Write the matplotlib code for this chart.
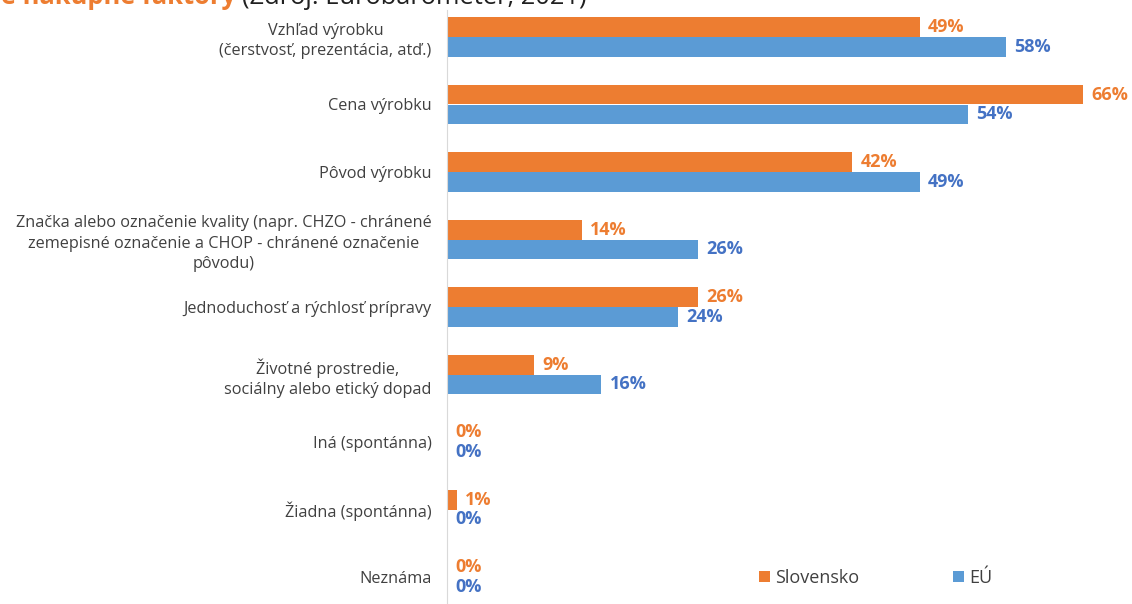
import numpy as np
import matplotlib.pyplot as plt

plt.rcParams['font.family'] = ['Open Sans', 'DejaVu Sans']

kategorie = [
    "Vzhľad výrobku\n(čerstvosť, prezentácia, atď.)",
    "Cena výrobku",
    "Pôvod výrobku",
    "Značka alebo označenie kvality (napr. CHZO - chránené\nzemepisné označenie a CHOP - chránené označenie\npôvodu)",
    "Jednoduchosť a rýchlosť prípravy",
    "Životné prostredie,\nsociálny alebo etický dopad",
    "Iná (spontánna)",
    "Žiadna (spontánna)",
    "Neznáma",
]
slovensko = [49, 66, 42, 14, 26, 9, 0, 1, 0]
eu = [58, 54, 49, 26, 24, 16, 0, 0, 0]
serie = ["Slovensko", "EÚ"]

c_sk = "#ED7D31"
c_eu = "#5B9BD5"
c_eu_txt = "#4472C4"

W, H = 1132, 604
fig = plt.figure(figsize=(W / 100, H / 100), dpi=100)
# axes in pixels: left 447, right 1122, top 10, bottom 604
ax = fig.add_axes([447 / W, 0, 675 / W, 594 / H])

y = np.arange(len(kategorie))
h = 0.29
ax.barh(y - h / 2, slovensko, height=h, color=c_sk, label=serie[0])
ax.barh(y + h / 2, eu, height=h, color=c_eu, label=serie[1])

for yi, v in zip(y, slovensko):
    ax.annotate(f"{v}%", (v, yi - h / 2), xytext=(6, 0), textcoords="offset points",
                va="center", ha="left", color=c_sk, fontweight="bold", fontsize=13)
for yi, v in zip(y, eu):
    ax.annotate(f"{v}%", (v, yi + h / 2), xytext=(6, 0), textcoords="offset points",
                va="center", ha="left", color=c_eu_txt, fontweight="bold", fontsize=13)

ax.set_xlim(0, 70)
ax.set_ylim(len(kategorie) - 0.6, -0.4)
ax.set_yticks(y)
ax.set_yticklabels(kategorie, fontsize=11.7, color="#404040", multialignment="center",
                   linespacing=1.35)
ax.tick_params(axis="y", length=0, pad=11)
ax.set_xticks([])
for s in ["top", "right", "bottom"]:
    ax.spines[s].set_visible(False)
ax.spines["left"].set_color("#d9d9d9")

fig.legend(loc="center", bbox_to_anchor=(876 / W, 1 - 578 / H), ncol=2, frameon=False,
           fontsize=13, handlelength=0.6, handleheight=0.6, handletextpad=0.3,
           columnspacing=5.2, labelcolor="#404040")

# title, cut off at the top edge
fig.text(236 / W, 1 - 3.5 / H, "Hlavné nákupné faktory", ha="right", va="baseline",
         color=c_sk, fontweight="bold", fontsize=18.4)
fig.text(242 / W, 1 - 3.5 / H, "(Zdroj: Eurobarometer, 2021)", ha="left", va="baseline",
         color="#202020", fontsize=18.4)

fig.savefig("out.png", dpi=100)
